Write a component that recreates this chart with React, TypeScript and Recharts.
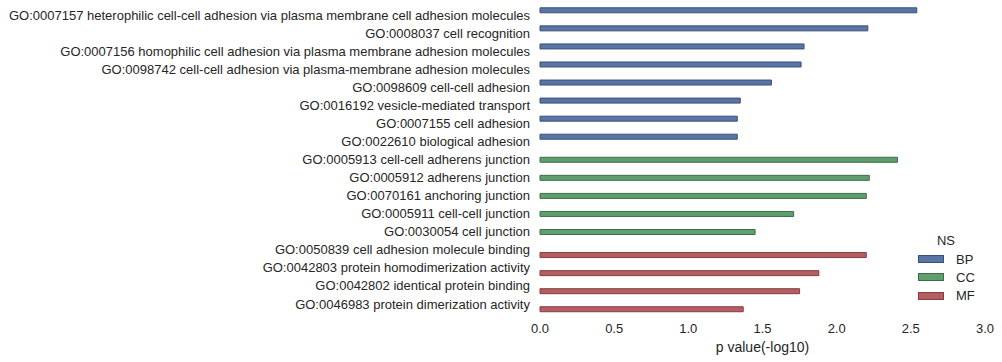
import React from 'react';
import { BarChart, Bar, XAxis, YAxis, Label } from 'recharts';

const TERMS = [
  'GO:0007157 heterophilic cell-cell adhesion via plasma membrane cell adhesion molecules',
  'GO:0008037 cell recognition',
  'GO:0007156 homophilic cell adhesion via plasma membrane adhesion molecules',
  'GO:0098742 cell-cell adhesion via plasma-membrane adhesion molecules',
  'GO:0098609 cell-cell adhesion',
  'GO:0016192 vesicle-mediated transport',
  'GO:0007155 cell adhesion',
  'GO:0022610 biological adhesion',
  'GO:0005913 cell-cell adherens junction',
  'GO:0005912 adherens junction',
  'GO:0070161 anchoring junction',
  'GO:0005911 cell-cell junction',
  'GO:0030054 cell junction',
  'GO:0050839 cell adhesion molecule binding',
  'GO:0042803 protein homodimerization activity',
  'GO:0042802 identical protein binding',
  'GO:0046983 protein dimerization activity',
];

const NS = ['BP', 'BP', 'BP', 'BP', 'BP', 'BP', 'BP', 'BP', 'CC', 'CC', 'CC', 'CC', 'CC', 'MF', 'MF', 'MF', 'MF'];

const PVALS = [2.54, 2.21, 1.78, 1.76, 1.56, 1.35, 1.33, 1.33, 2.41, 2.22, 2.2, 1.71, 1.45, 2.2, 1.88, 1.75, 1.37];

const X_TICKS = [0, 0.5, 1, 1.5, 2, 2.5, 3];

const SERIES = [
  { key: 'BP', fill: '#5875a4', stroke: '#3b5078' },
  { key: 'CC', fill: '#5f9e6e', stroke: '#3e6e49' },
  { key: 'MF', fill: '#b55d60', stroke: '#843e41' },
];

const rows = TERMS.map((term, i) => ({
  term,
  BP: NS[i] === 'BP' ? PVALS[i] : null,
  CC: NS[i] === 'CC' ? PVALS[i] : null,
  MF: NS[i] === 'MF' ? PVALS[i] : null,
}));

const FONT = '"Liberation Sans", Arial, sans-serif';
const TEXT = '#262626';

// single-line tick so long GO terms don't wrap
const TermTick = (props: any) => {
  const { x, y, payload } = props;
  return (
    <text x={x - 2} y={y} dy="0.35em" textAnchor="end" fontSize={13} fill={TEXT} fontFamily={FONT}>
      {payload.value}
    </text>
  );
};

export default function App() {
  return (
    <div style={{ position: 'absolute', left: 0, top: 0, width: 1002, height: 362, background: '#fff', fontFamily: FONT }}>
      <BarChart
        width={1002}
        height={362}
        data={rows}
        layout="vertical"
        barCategoryGap="10%"
        barGap={0}
        margin={{ top: 6, right: 17, bottom: 0, left: 0 }}
      >
        <XAxis
          type="number"
          domain={[0, 3]}
          ticks={X_TICKS}
          tickFormatter={(v: number) => v.toFixed(1)}
          axisLine={false}
          tickLine={false}
          tickMargin={5}
          height={49}
          tick={{ fontSize: 13, fill: TEXT, fontFamily: FONT }}
        >
          <Label value="p value(-log10)" position="insideBottom" offset={10} style={{ fontSize: 14, fill: TEXT, fontFamily: FONT }} />
        </XAxis>
        <YAxis
          type="category"
          dataKey="term"
          width={540}
          axisLine={false}
          tickLine={false}
          interval={0}
          tick={<TermTick />}
        />
        {SERIES.map((s) => (
          <Bar key={s.key} dataKey={s.key} fill={s.fill} stroke={s.stroke} strokeWidth={1} isAnimationActive={false} />
        ))}
      </BarChart>
      <div style={{ position: 'absolute', left: 912, top: 232, color: TEXT, fontSize: 13 }}>
        <div style={{ textAlign: 'center', width: 68, height: 18, lineHeight: '18px' }}>NS</div>
        {SERIES.map((s) => (
          <div key={s.key} style={{ display: 'flex', alignItems: 'center', height: 18.3 }}>
            <div style={{ width: 26, height: 8, marginLeft: 6, background: s.fill, border: `1px solid ${s.stroke}`, boxSizing: 'border-box' }} />
            <span style={{ marginLeft: 12, fontSize: 13 }}>{s.key}</span>
          </div>
        ))}
      </div>
    </div>
  );
}
